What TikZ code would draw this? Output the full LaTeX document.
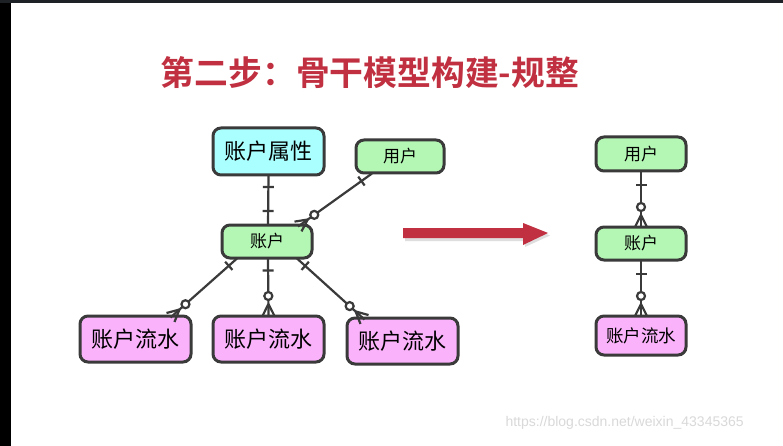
\documentclass[tikz,border=0pt]{standalone}
\usepackage{fontspec}
\newfontfamily\cjk{Noto Sans CJK SC}
\newfontfamily\cjkbold{Noto Sans CJK SC Bold}
\setsansfont{Liberation Sans}
\usetikzlibrary{calc,shadows}
\definecolor{titlered}{RGB}{192,48,64}
\definecolor{cyanfill}{RGB}{170,255,255}
\definecolor{greenfill}{RGB}{180,246,180}
\definecolor{pinkfill}{RGB}{250,178,250}
\definecolor{edge}{RGB}{58,58,58}
\definecolor{topbar}{RGB}{30,34,39}
\tikzset{
  box/.style={draw=edge, line width=3pt, rounded corners=8pt, inner sep=0pt, font=\cjk},
  conn/.style={draw=edge, line width=2.2pt},
}
% bar near start: #1 start, #2 end, #3 distance
\newcommand\erbar[3]{\draw[conn] ($(#1)!#3!(#2)!5.5pt!90:(#2)$) -- ($(#1)!#3!(#2)!5.5pt!-90:(#2)$);}
% zero-or-many at end #2 (line from #1)
\newcommand\ermany[2]{%
  \draw[conn] ($(#2)!12pt!(#1)$) -- ($(#2)!6pt!90:(#1)$);
  \draw[conn] ($(#2)!12pt!(#1)$) -- ($(#2)!6pt!-90:(#1)$);
  \draw[conn, fill=white] ($(#2)!20pt!(#1)$) circle (4pt);
}
\begin{document}
\begin{tikzpicture}[x=1pt,y=-1pt]
\useasboundingbox (0,0) rectangle (783,446);
\fill[white] (0,0) rectangle (783,446);
\fill[topbar] (0,0) rectangle (783,3);
\fill[black] (0,3) rectangle (11,446);

% title
\node[text=titlered, font=\cjkbold\fontsize{33.8}{36}\selectfont] (title) at (370,73) {第二步：骨干模型构建-规整};

% left diagram
\node[box, fill=cyanfill, minimum width=111pt, minimum height=47pt, font=\cjk\fontsize{22}{24}\selectfont] (attr) at (268.5,151.5) {账户属性};
\node[box, fill=greenfill, minimum width=88pt, minimum height=33pt, font=\cjk\fontsize{17}{19}\selectfont] (userL) at (400,156.5) {用户};
\node[box, fill=greenfill, minimum width=90pt, minimum height=33pt, font=\cjk\fontsize{17}{19}\selectfont] (acctL) at (267,241.5) {账户};
\node[box, fill=pinkfill, minimum width=111pt, minimum height=46pt, font=\cjk\fontsize{22}{24}\selectfont] (flow1) at (135.5,339) {账户流水};
\node[box, fill=pinkfill, minimum width=111pt, minimum height=46pt, font=\cjk\fontsize{22}{24}\selectfont] (flow2) at (268.5,339) {账户流水};
\node[box, fill=pinkfill, minimum width=111pt, minimum height=46pt, font=\cjk\fontsize{22}{24}\selectfont] (flow3) at (402.5,341) {账户流水};

% connector end points
\coordinate (a1) at ([yshift=1.5pt]attr.south);
\coordinate (a2) at ([xshift=1pt,yshift=-1.5pt]acctL.north);
\coordinate (u1) at ([xshift=-28pt,yshift=1pt]userL.south);
\coordinate (u2) at ([xshift=31pt,yshift=-3pt]acctL.north);
\coordinate (f1s) at ([xshift=-30pt,yshift=1pt]acctL.south);
\coordinate (f1e) at ([xshift=35pt,yshift=-3pt]flow1.north);
\coordinate (f2s) at ([xshift=1pt,yshift=1pt]acctL.south);
\coordinate (f2e) at ([yshift=-1.5pt]flow2.north);
\coordinate (f3s) at ([xshift=30pt,yshift=1pt]acctL.south);
\coordinate (f3e) at ([xshift=-38pt,yshift=-3pt]flow3.north);

\draw[conn] (a1) -- (a2);
\erbar{a1}{a2}{12pt}
\erbar{a2}{a1}{14pt}

\draw[conn] (u1) -- (u2);
\erbar{u1}{u2}{13pt}
\ermany{u1}{u2}

\draw[conn] (f1s) -- (f1e);
\erbar{f1s}{f1e}{11pt}
\ermany{f1s}{f1e}

\draw[conn] (f2s) -- (f2e);
\erbar{f2s}{f2e}{12pt}
\ermany{f2s}{f2e}

\draw[conn] (f3s) -- (f3e);
\erbar{f3s}{f3e}{11pt}
\ermany{f3s}{f3e}

% big arrow
\fill[black!25, opacity=0.5] (405,230) -- (525,230) -- (525,225) -- (550,235.5) -- (525,247) -- (525,241) -- (405,241) -- cycle;
\fill[titlered] (403,228) -- (523,228) -- (523,223) -- (548,233) -- (523,245) -- (523,238) -- (403,238) -- cycle;

% right diagram
\node[box, fill=greenfill, minimum width=90pt, minimum height=34pt, font=\cjk\fontsize{17}{19}\selectfont] (userR) at (641,154) {用户};
\node[box, fill=greenfill, minimum width=90pt, minimum height=33pt, font=\cjk\fontsize{17}{19}\selectfont] (acctR) at (641,243.5) {账户};
\node[box, fill=pinkfill, minimum width=90pt, minimum height=39pt, font=\cjk\fontsize{17.5}{19}\selectfont] (flowR) at (641,335.5) {账户流水};

\coordinate (r1s) at ([yshift=1.5pt]userR.south);
\coordinate (r1e) at ([yshift=-1.5pt]acctR.north);
\coordinate (r2s) at ([yshift=1.5pt]acctR.south);
\coordinate (r2e) at ([yshift=-1.5pt]flowR.north);
\draw[conn] (r1s) -- (r1e);
\erbar{r1s}{r1e}{14pt}
\ermany{r1s}{r1e}
\draw[conn] (r2s) -- (r2e);
\erbar{r2s}{r2e}{14pt}
\ermany{r2s}{r2e}

% watermark
\node[text=black!15, font=\sffamily\fontsize{14}{16}\selectfont, anchor=west] (wm) at (502,423) {https://blog.csdn.net/weixin\_43345365};
\end{tikzpicture}
\end{document}
